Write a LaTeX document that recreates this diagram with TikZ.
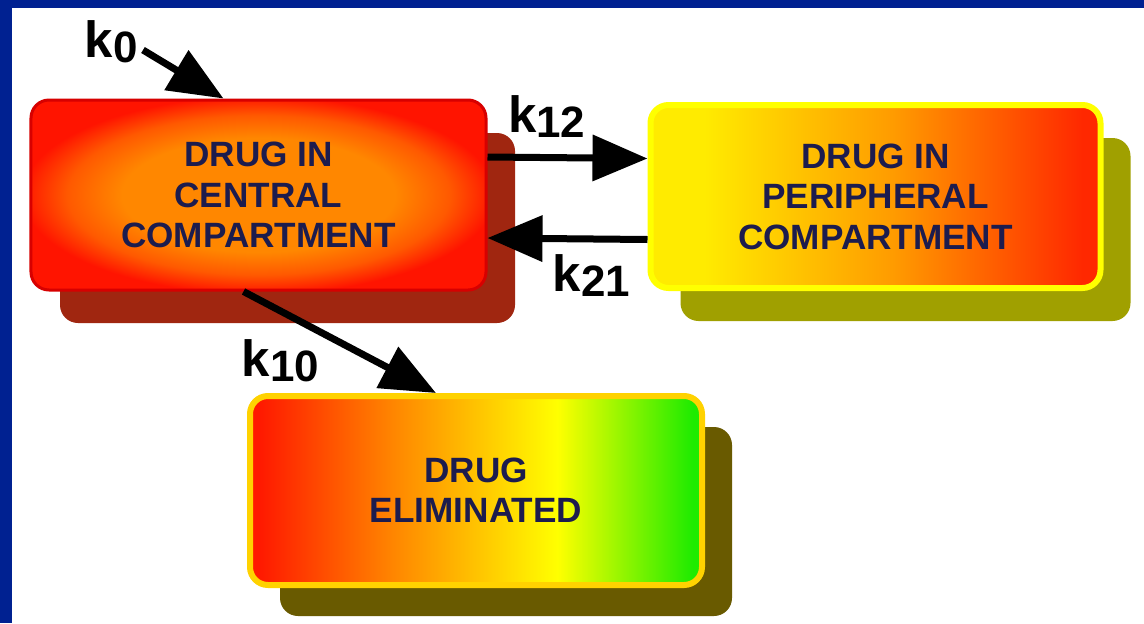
\documentclass[tikz,border=0pt]{standalone}
\usepackage{fontspec}
\setmainfont{Liberation Sans}
\usetikzlibrary{arrows.meta,shadows}

\definecolor{slideblue}{RGB}{0,33,145}
\definecolor{textnavy}{RGB}{28,28,78}
\definecolor{centralred}{RGB}{255,20,0}
\definecolor{centralorange}{RGB}{255,135,0}
\definecolor{centralrim}{RGB}{215,0,0}
\definecolor{centralshadow}{RGB}{160,38,16}
\definecolor{periphyellow}{RGB}{255,235,0}
\definecolor{periphorange}{RGB}{255,155,0}
\definecolor{periphred}{RGB}{255,40,0}
\definecolor{periphrim}{RGB}{255,255,0}
\definecolor{periphshadow}{RGB}{160,160,0}
\definecolor{elimred}{RGB}{255,25,0}
\definecolor{elimorange}{RGB}{255,135,0}
\definecolor{elimyellow}{RGB}{255,255,0}
\definecolor{elimgreen}{RGB}{30,235,0}
\definecolor{elimrim}{RGB}{255,210,0}
\definecolor{elimshadow}{RGB}{105,90,0}

\pgfdeclareradialshading{centralshade}{\pgfpoint{0bp}{0bp}}{color(0bp)=(centralorange); color(15bp)=(centralorange); color(21bp)=(centralorange!60!centralred); color(26bp)=(centralred); color(50bp)=(centralred)}
\pgfdeclarehorizontalshading{periphshade}{100bp}{color(0bp)=(periphyellow); color(31bp)=(periphyellow); color(52bp)=(periphorange); color(73bp)=(periphred); color(100bp)=(periphred)}
\pgfdeclarehorizontalshading{elimshade}{100bp}{color(0bp)=(elimred); color(26bp)=(elimred); color(41bp)=(elimorange); color(59bp)=(elimyellow); color(74bp)=(elimgreen); color(100bp)=(elimgreen)}

\newcommand{\krate}[1]{k\raisebox{-3pt}{\fontsize{25}{25}\selectfont #1}}

\begin{document}
\begin{tikzpicture}
\tikzset{box/.style = {rounded corners=0.36cm, align=center, text=textnavy,
    font=\fontsize{20}{23}\selectfont\bfseries, inner sep=0pt}}
\tikzset{rate/.style = {-{Triangle[length=1.1cm,width=0.9cm]}, line width=0.14cm}}
\tikzset{ratelabel/.style = {font=\fontsize{29}{30}\selectfont\bfseries, inner sep=1pt}}
% slide background
\useasboundingbox (0,0) rectangle (22.88,-12.46);
\fill[slideblue] (0,0) rectangle (22.88,-12.46);
\fill[white] (0.24,-0.16) rectangle (22.88,-12.46);
% compartments
\node[box, minimum width=9.1cm, minimum height=3.8cm, shading=centralshade,
  draw=centralrim, line width=0.06cm,
  drop shadow={shadow xshift=0.58cm, shadow yshift=-0.66cm, fill=centralshadow, opacity=1}]
  (central) at (5.17,-3.9) {DRUG IN\\CENTRAL\\COMPARTMENT};
\node[box, minimum width=9.0cm, minimum height=3.66cm, shading=periphshade,
  draw=periphrim, line width=0.12cm,
  drop shadow={shadow xshift=0.6cm, shadow yshift=-0.66cm, fill=periphshadow, opacity=1}]
  (peripheral) at (17.51,-3.93) {DRUG IN\\PERIPHERAL\\COMPARTMENT};
\node[box, minimum width=9.04cm, minimum height=3.78cm, shading=elimshade,
  draw=elimrim, line width=0.12cm,
  drop shadow={shadow xshift=0.6cm, shadow yshift=-0.62cm, fill=elimshadow, opacity=1}]
  (eliminated) at (9.52,-9.81) {DRUG\\ELIMINATED};
% rate constants
\coordinate (dose) at (2.86,-1.0);
\path[rate]
(dose) edge node[ratelabel, left, pos=0, yshift=0.16cm] {\krate{0}} ([xshift=-0.7cm]central.north)
([yshift=0.76cm]central.east) edge node[ratelabel, above=0.3cm, pos=0.37] {\krate{12}} ([yshift=0.76cm]peripheral.west)
([yshift=-0.86cm]peripheral.west) edge node[ratelabel, below=0.2cm, pos=0.35] {\krate{21}} ([yshift=-0.86cm]central.east)
([xshift=-0.3cm]central.south) edge node[ratelabel, below left, pos=0.42] {\krate{10}} ([xshift=-0.8cm]eliminated.north);
\end{tikzpicture}
\end{document}
